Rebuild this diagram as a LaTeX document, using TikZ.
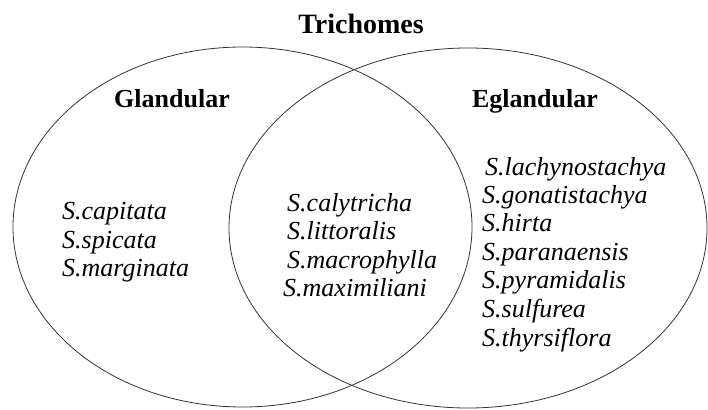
\documentclass[tikz,border=0pt]{standalone}
\usepackage{fontspec}
\setmainfont{Liberation Serif}
\begin{document}
\begin{tikzpicture}[x=1pt,y=-1pt,
  setline/.style={draw=black!80,line width=0.8pt},
  headtxt/.style={inner sep=0pt,anchor=base,font=\fontsize{26}{30}\selectfont\bfseries},
  titletxt/.style={inner sep=0pt,anchor=base,font=\fontsize{28}{32}\selectfont\bfseries},
  sptxt/.style={inner sep=0pt,anchor=base west,font=\fontsize{26}{29}\selectfont\itshape}]
\useasboundingbox (0,0) rectangle (708,409);
\draw[setline] (242.5,227) ellipse [x radius=229.5, y radius=180];
\draw[setline] (468,228) ellipse [x radius=239, y radius=180];
\node[titletxt] (title) at (361,34) {Trichomes};
\node[headtxt] (gl) at (172,107) {Glandular};
\node[headtxt] (eg) at (535,107) {Eglandular};
% left
\node[sptxt] (l1) at (62,219) {S.capitata};
\node[sptxt] (l2) at (62,248) {S.spicata};
\node[sptxt] (l3) at (62,276) {S.marginata};
% middle
\node[sptxt] (m1) at (287,211) {S.calytricha};
\node[sptxt] (m2) at (287,239.5) {S.littoralis};
\node[sptxt] (m3) at (287,268) {S.macrophylla};
\node[sptxt] (m4) at (283,296.5) {S.maximiliani};
% right
\node[sptxt] (r1) at (485,175) {S.lachynostachya};
\node[sptxt] (r2) at (482,203) {S.gonatistachya};
\node[sptxt] (r3) at (482,231) {S.hirta};
\node[sptxt] (r4) at (482,260) {S.paranaensis};
\node[sptxt] (r5) at (482,288) {S.pyramidalis};
\node[sptxt] (r6) at (482,317) {S.sulfurea};
\node[sptxt] (r7) at (482,346) {S.thyrsiflora};
\end{tikzpicture}
\end{document}
